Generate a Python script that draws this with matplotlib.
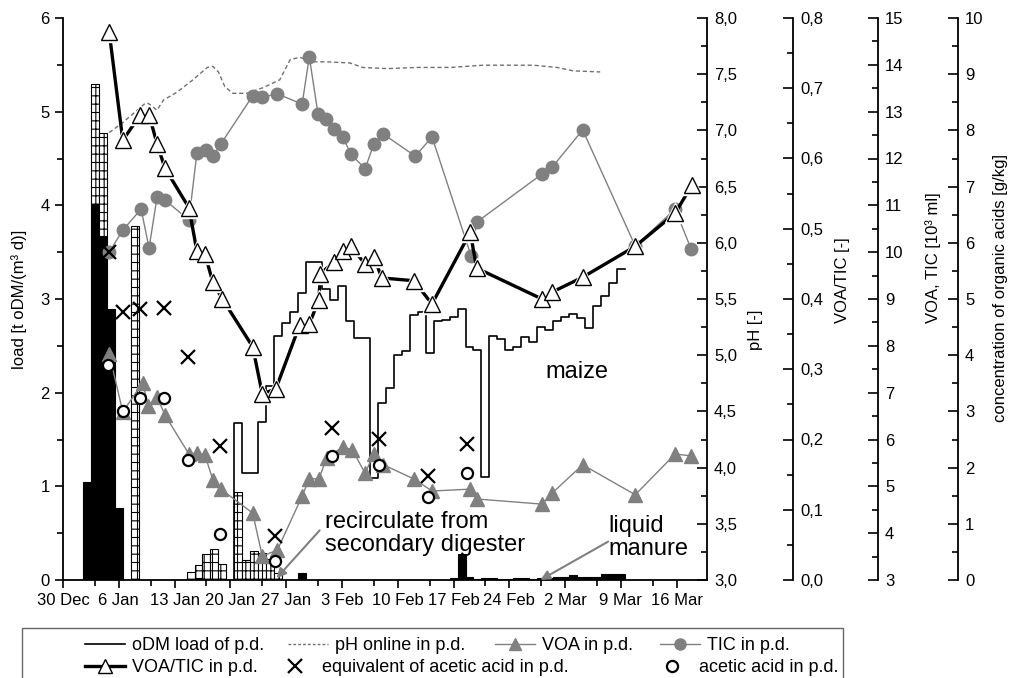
import numpy as np
import matplotlib
matplotlib.use("Agg")
from matplotlib import pyplot as plt
from matplotlib.lines import Line2D
from matplotlib.patches import Rectangle
from matplotlib.ticker import MultipleLocator, FuncFormatter, FixedLocator

plt.rcParams['font.family'] = ['Liberation Sans', 'DejaVu Sans']
plt.rcParams['hatch.linewidth'] = 0.8

# day 0 = 30 Dec
date_ticks = [0, 7, 14, 21, 28, 35, 42, 49, 56, 63, 70, 77]
date_labels = ["30 Dec", "6 Jan", "13 Jan", "20 Jan", "27 Jan", "3 Feb",
               "10 Feb", "17 Feb", "24 Feb", "2 Mar", "9 Mar", "16 Mar"]

# oDM load: maize (step line)
maize_day = list(range(22, 71))
maize_load = [1.68, 1.14, 1.14, 1.69, 2.07, 2.60, 2.74, 2.86, 3.06, 3.40,
              3.40, 3.11, 2.99, 3.14, 2.76, 2.58, 2.58, 1.09, 1.89, 2.05,
              2.40, 2.44, 2.83, 2.86, 2.42, 2.76, 2.78, 2.81, 2.89, 2.49,
              2.46, 1.10, 2.60, 2.57, 2.46, 2.49, 2.59, 2.54, 2.70, 2.67,
              2.76, 2.81, 2.84, 2.80, 2.69, 2.92, 3.03, 3.17, 3.32]

# liquid manure (black bars)
manure_day = [3, 4, 5, 6, 7, 17, 30, 49, 50, 51, 52, 53, 54, 55, 56, 57, 58,
              59, 60, 61, 62, 63, 64, 65, 66, 67, 68, 69, 70]
manure_load = [1.05, 4.01, 3.67, 2.89, 0.77, 0.02, 0.07, 0.02, 0.28, 0.03,
               0.01, 0.02, 0.02, 0.01, 0.01, 0.025, 0.025, 0.01, 0.02, 0.02,
               0.035, 0.035, 0.05, 0.035, 0.03, 0.03, 0.06, 0.06, 0.06]

# recirculate from secondary digester (hatched bars)
recirc_day = [4, 5, 9, 16, 17, 18, 19, 20, 22, 23, 24, 25, 26, 27]
recirc_load = [1.29, 1.10, 3.78, 0.09, 0.14, 0.28, 0.33, 0.17, 0.94, 0.21,
               0.31, 0.29, 0.22, 0.07]

# pH online
ph_day = [5.8, 7.5, 10.3, 10.7, 11.8, 12.6, 14.3, 16.3, 18.1, 18.8, 19.5,
          20.3, 21.3, 23.1, 25.1, 27.2, 28.5, 29.7, 31.4, 33.1, 36.0, 37.6,
          40.7, 44.4, 48.6, 52.7, 59.0, 62.0, 64.0, 67.4]
ph_val = [6.98, 7.07, 7.24, 7.24, 7.18, 7.27, 7.34, 7.45, 7.56, 7.57, 7.52,
          7.39, 7.33, 7.33, 7.38, 7.45, 7.63, 7.65, 7.61, 7.61, 7.60, 7.56,
          7.55, 7.56, 7.56, 7.58, 7.58, 7.56, 7.53, 7.52]

# VOA/TIC
ratio_day = [5.8, 7.5, 9.7, 10.8, 11.8, 12.8, 15.8, 16.8, 17.8, 18.8, 20.0,
             23.8, 25.0, 26.7, 29.7, 30.9, 32.1, 32.3, 34.0, 35.1, 36.1, 37.9,
             39.0, 40.0, 44.0, 46.3, 51.1, 51.9, 60.1, 61.4, 65.2, 71.8, 76.8,
             78.9]
ratio_val = [0.780, 0.626, 0.662, 0.662, 0.621, 0.586, 0.530, 0.468, 0.464,
             0.424, 0.400, 0.332, 0.265, 0.272, 0.363, 0.364, 0.399, 0.436,
             0.453, 0.468, 0.475, 0.450, 0.460, 0.430, 0.426, 0.393, 0.495,
             0.444, 0.400, 0.410, 0.431, 0.475, 0.522, 0.562]

# TIC and VOA [10^3 ml]
tic_day = [5.8, 7.5, 9.8, 10.8, 11.8, 12.8, 15.8, 16.8, 17.9, 18.8, 19.8,
           23.8, 25.0, 26.9, 30.0, 30.9, 32.0, 33.0, 34.0, 35.1, 36.1, 37.9,
           39.0, 40.2, 44.2, 46.3, 51.2, 51.9, 60.1, 61.4, 65.2, 71.8, 76.8,
           78.8]
tic_val = [10.00, 10.47, 10.92, 10.09, 11.18, 11.11, 10.69, 12.12, 12.18,
           12.05, 12.31, 13.34, 13.31, 13.38, 13.16, 14.17, 12.95, 12.84,
           12.63, 12.46, 12.10, 11.78, 12.31, 12.52, 12.05, 12.46, 9.92,
           10.64, 11.67, 11.82, 12.61, 10.13, 10.92, 10.07]
voa_day = [5.8, 7.5, 10.0, 10.7, 11.8, 12.8, 15.8, 16.8, 17.8, 18.8, 19.8,
           23.8, 25.0, 26.9, 30.0, 30.9, 32.1, 33.1, 35.1, 36.3, 37.9, 39.0,
           40.2, 44.0, 46.3, 51.1, 51.9, 60.1, 61.4, 65.2, 71.8, 76.8, 78.8]
voa_val = [7.83, 6.59, 7.21, 6.72, 6.91, 6.52, 5.69, 5.71, 5.67, 5.14, 4.94,
           4.43, 3.51, 3.64, 4.79, 5.16, 5.16, 5.61, 5.84, 5.78, 5.28, 5.69,
           5.46, 5.16, 4.90, 4.94, 4.73, 4.62, 4.86, 5.46, 4.82, 5.69, 5.65]

# organic acids [g/kg]
eq_day = [5.8, 7.5, 9.7, 12.7, 15.7, 19.7, 26.6, 33.7, 39.7, 45.8, 50.7]
eq_val = [5.84, 4.77, 4.82, 4.84, 3.97, 2.38, 0.78, 2.70, 2.51, 1.85, 2.42]
acetic_day = [5.7, 7.5, 9.7, 12.7, 15.7, 19.7, 26.6, 33.7, 39.7, 45.8, 50.7]
acetic_val = [3.83, 3.01, 3.24, 3.24, 2.14, 0.82, 0.34, 2.21, 2.05, 1.48,
              1.90]

GRAY = '#808080'
FS = 12


def komma(fmt):
    return FuncFormatter(lambda v, p: fmt.format(v).replace('.', ','))


fig = plt.figure(figsize=(10.1, 6.78), dpi=100)
ax = fig.add_axes([63 / 1010, 98 / 678, 644 / 1010, 562 / 678])

# bars
ax.bar(manure_day, manure_load, width=1.0, color='black', edgecolor='black',
       linewidth=0.8, zorder=2)
base = dict(zip(manure_day, manure_load))
ax.bar(recirc_day, recirc_load, width=1.0,
       bottom=[base.get(d, 0) for d in recirc_day],
       color='white', edgecolor='black', hatch='++', linewidth=0.8, zorder=2)

# maize step line
edges = np.array(maize_day) - 0.5
xs = np.concatenate([[edges[0]], edges, [maize_day[-1] + 0.5]])
ys = np.concatenate([[0], maize_load, [maize_load[-1]]])
ax.step(xs, ys, where='post', color='black', lw=1.2, zorder=3)

ax.set_xlim(0, 80.8)
ax.set_ylim(0, 6)
ax.spines['top'].set_visible(False)
ax.spines['right'].set_visible(False)
for s in ['left', 'bottom']:
    ax.spines[s].set_linewidth(1.3)
ax.xaxis.set_major_locator(FixedLocator(date_ticks))
ax.xaxis.set_minor_locator(FixedLocator([d + 4 for d in date_ticks[:-1]]))
ax.set_xticklabels(date_labels, fontsize=FS)
ax.yaxis.set_major_locator(MultipleLocator(1))
ax.yaxis.set_minor_locator(MultipleLocator(0.5))
ax.tick_params(axis='both', which='major', direction='out', length=6,
               width=1.2, labelsize=FS)
ax.tick_params(axis='both', which='minor', direction='out', length=4,
               width=1.2)
ax.set_ylabel("load [t oDM/(m³ d)]", fontsize=FS)
ax.yaxis.set_label_coords(-0.056, 0.5)

ax.text(60.5, 2.22, "maize", fontsize=17, va='center', ha='left')
ax.text(32.9, 0.50, "recirculate from\nsecondary digester", fontsize=17,
        va='center', ha='left', linespacing=1.05)
ax.text(68.4, 0.45, "liquid\nmanure", fontsize=17, va='center', ha='left',
        linespacing=1.05)
ax.annotate('', xy=(26.8, 0.02), xytext=(32.2, 0.53),
            arrowprops=dict(arrowstyle='-|>', color=GRAY, lw=1.5,
                            mutation_scale=14, shrinkA=0, shrinkB=0))
ax.annotate('', xy=(59.9, 0.0), xytext=(68.4, 0.41),
            arrowprops=dict(arrowstyle='-|>', color=GRAY, lw=1.5,
                            mutation_scale=14, shrinkA=0, shrinkB=0))


def right_axis(pos, lo, hi, major, minor, fmt):
    a = ax.twinx()
    a.spines['right'].set_position(('axes', pos))
    for s in ['top', 'left', 'bottom']:
        a.spines[s].set_visible(False)
    a.spines['right'].set_linewidth(1.3)
    a.set_ylim(lo, hi)
    a.yaxis.set_major_locator(MultipleLocator(major))
    a.yaxis.set_minor_locator(MultipleLocator(minor))
    a.yaxis.set_major_formatter(komma(fmt))
    a.tick_params(axis='y', which='major', direction='in', length=7,
                  width=1.2, labelsize=FS, pad=5)
    a.tick_params(axis='y', which='minor', direction='in', length=4,
                  width=1.2)
    return a


ax_ph = right_axis(1.0, 3, 8, 0.5, 0.25, "{:.1f}")
ax_vt = right_axis(1.2655, 3, 15, 1, 0.5, "{:.0f}")
ax_acid = right_axis(1.3898, 0, 10, 1, 0.5, "{:.0f}")
ax_ratio = right_axis(1.1335, 0, 0.8, 0.1, 0.05, "{:.1f}")

ax_ph.set_ylabel("pH [-]", fontsize=FS)
ax_ph.yaxis.set_label_coords(1.064, 0.445)
ax_ratio.set_ylabel("VOA/TIC [-]", fontsize=FS)
ax_ratio.yaxis.set_label_coords(1.199, 0.534)
ax_vt.set_ylabel("VOA, TIC [10³ ml]", fontsize=FS)
ax_vt.yaxis.set_label_coords(1.338, 0.573)
ax_acid.set_ylabel("concentration of organic acids [g/kg]", fontsize=FS)
ax_acid.yaxis.set_label_coords(1.444, 0.52)

ax_ph.plot(ph_day, ph_val, color='#707070', lw=1, dashes=(3, 2))
ax_vt.plot(voa_day, voa_val, color=GRAY, lw=1, marker='^', ms=9.5,
           mfc=GRAY, mec=GRAY)
ax_vt.plot(tic_day, tic_val, color=GRAY, lw=1, marker='o', ms=9,
           mfc=GRAY, mec=GRAY)
ax_acid.plot(eq_day, eq_val, ls='none', marker='x', ms=10, mew=1.6,
             color='black')
ax_acid.plot(acetic_day, acetic_val, ls='none', marker='o', ms=8, mew=1.6,
             mfc='white', mec='black')
# VOA/TIC: line stops short of each marker (white halo under the triangles)
ax_ratio.plot(ratio_day, ratio_val, color='black', lw=2.4)
ax_ratio.plot(ratio_day, ratio_val, ls='none', marker='^', ms=15,
              mfc='white', mec='white')
ax_ratio.plot(ratio_day, ratio_val, ls='none', marker='^', ms=11,
              mfc='white', mec='black', mew=1.0)

# legend, placed entry by entry (handle start x, row y in pixels)
h_odm = Line2D([], [], color='black', lw=1.2)
h_ph = Line2D([], [], color='#707070', lw=1, dashes=(2, 1.5))
h_voa = Line2D([], [], color=GRAY, lw=1, marker='^', ms=9, mfc=GRAY, mec=GRAY)
h_tic = Line2D([], [], color=GRAY, lw=1, marker='o', ms=8, mfc=GRAY, mec=GRAY)
h_ratio = Line2D([], [], color='black', lw=2.4, marker='^', ms=10,
                 mfc='white', mec='black')
h_eq = Line2D([], [], ls='none', marker='x', ms=10, mew=1.6, color='black')
h_ac = Line2D([], [], ls='none', marker='o', ms=8, mew=1.6, mfc='white',
              mec='black')

entries = [
    (h_odm, "oDM load of p.d.", 85, 646),
    (h_ph, "pH online in p.d.", 288, 646),
    (h_voa, "VOA in p.d.", 495, 646),
    (h_tic, "TIC in p.d.", 660, 646),
    (h_ratio, "VOA/TIC in p.d.", 85, 668),
    (h_eq, "equivalent of acetic acid in p.d.", 275, 668),
    (h_ac, "acetic acid in p.d.", 652, 668),
]
for h, lab, px, py in entries:
    fig.legend([h], [lab], loc='center left', frameon=False, fontsize=13,
               handlelength=2.2, handletextpad=0.4, borderpad=0,
               borderaxespad=0, bbox_to_anchor=(px / 1010, 1 - py / 678))
fig.patches.append(Rectangle((22 / 1010, -0.05), 821 / 1010,
                             0.05 + 50 / 678, transform=fig.transFigure,
                             fill=False, edgecolor='#666666', lw=1))

fig.savefig("out.png", dpi=100)
